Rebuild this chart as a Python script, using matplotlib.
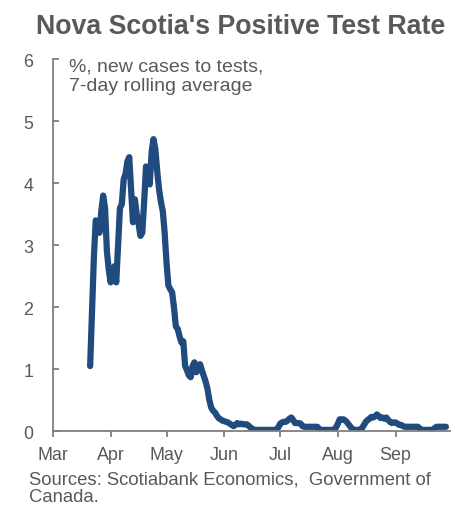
import numpy as np
import pandas as pd
import matplotlib
matplotlib.use("Agg")
import matplotlib.pyplot as plt
import matplotlib.dates as mdates

# 7-day rolling positive test rate (%), daily from 21 March
start_date = "2020-03-21"
positive_rate = [
    1.05, 1.90, 2.80, 3.40, 3.35, 3.20, 3.55, 3.80, 3.60, 2.90,   # Mar 21-30
    2.60, 2.40, 2.55, 2.66, 2.40, 3.00, 3.60, 3.66, 4.06, 4.15,   # Mar 31-Apr 9
    4.35, 4.42, 3.90, 3.37, 3.74, 3.50, 3.35, 3.15, 3.20, 3.70,   # Apr 10-19
    4.27, 4.15, 3.98, 4.50, 4.71, 4.55, 4.20, 3.90, 3.70, 3.55,   # Apr 20-29
    3.20, 2.72, 2.35, 2.29, 2.24, 2.00, 1.69, 1.65, 1.53, 1.43,   # Apr 30-May 9
    1.45, 1.05, 0.98, 0.90, 0.87, 1.05, 1.11, 0.95, 1.00, 1.08,   # May 10-19
    0.98, 0.89, 0.80, 0.68, 0.50, 0.38, 0.33, 0.30, 0.25, 0.21,   # May 20-29
    0.19, 0.17, 0.16, 0.15, 0.14, 0.12, 0.10, 0.08, 0.10, 0.13,   # May 30-Jun 8
    0.11, 0.12, 0.11, 0.11, 0.11, 0.09, 0.06, 0.04, 0.02, 0.02,   # Jun 9-18
    0.02, 0.02, 0.02, 0.02, 0.02, 0.02, 0.02, 0.02, 0.02, 0.02,   # Jun 19-28
    0.02, 0.06, 0.12, 0.14, 0.15, 0.15, 0.17, 0.20, 0.22, 0.18,   # Jun 29-Jul 8
    0.13, 0.13, 0.13, 0.12, 0.08, 0.07, 0.07, 0.07, 0.07, 0.07,   # Jul 9-18
    0.07, 0.07, 0.07, 0.03, 0.02, 0.02, 0.02, 0.02, 0.02, 0.02,   # Jul 19-28
    0.02, 0.02, 0.06, 0.12, 0.19, 0.19, 0.19, 0.17, 0.14, 0.10,   # Jul 29-Aug 7
    0.06, 0.03, 0.02, 0.02, 0.02, 0.02, 0.05, 0.10, 0.15, 0.18,   # Aug 8-17
    0.20, 0.23, 0.22, 0.24, 0.27, 0.24, 0.21, 0.22, 0.20, 0.22,   # Aug 18-27
    0.18, 0.15, 0.13, 0.14, 0.14, 0.12, 0.10, 0.10, 0.08, 0.07,   # Aug 28-Sep 6
    0.07, 0.07, 0.07, 0.07, 0.07, 0.07, 0.07, 0.04, 0.02, 0.02,   # Sep 7-16
    0.02, 0.02, 0.02, 0.02, 0.02, 0.05, 0.07, 0.07, 0.07, 0.07,   # Sep 17-26
    0.07, 0.07,                                                   # Sep 27-28
]
dates = pd.date_range(start_date, periods=len(positive_rate), freq="D")

month_ticks = pd.date_range("2020-03-01", "2020-09-01", freq="MS")
month_labels = ["Mar", "Apr", "May", "Jun", "Jul", "Aug", "Sep"]
y_ticks = [0, 1, 2, 3, 4, 5, 6]

title = "Nova Scotia's Positive Test Rate"
units_note = "%, new cases to tests,\n7-day rolling average"
source_note = "Sources: Scotiabank Economics,  Government of\nCanada."

line_color = "#1F4B7E"
text_color = "#595959"
axis_color = "#7F7F7F"

plt.rcParams["font.family"] = ["Liberation Sans", "DejaVu Sans"]

fig = plt.figure(figsize=(4.56, 5.06), dpi=100)
ax = fig.add_axes([0.116, 0.146, 0.870, 0.735])

ax.plot(dates, positive_rate, color=line_color, lw=4.5,
        solid_joinstyle="round", solid_capstyle="round")

ax.set_xlim(pd.Timestamp("2020-03-01"), pd.Timestamp("2020-09-30"))
ax.set_ylim(0, 6)
ax.set_yticks(y_ticks)
ax.set_xticks(month_ticks)
ax.set_xticklabels(month_labels)

for side in ("top", "right"):
    ax.spines[side].set_visible(False)
for side in ("left", "bottom"):
    ax.spines[side].set_color(axis_color)
    ax.spines[side].set_linewidth(1.3)

ax.tick_params(axis="x", direction="out", length=4, width=1.3, color=axis_color,
               labelsize=12.9, labelcolor=text_color, pad=7)
ax.tick_params(axis="y", direction="in", length=4, width=1.3, color=axis_color,
               labelsize=12.9, labelcolor=text_color, pad=14)

ax.text(0.04, 1.005, units_note, transform=ax.transAxes, ha="left", va="top",
        fontsize=14, color=text_color, linespacing=1.2)

fig.text(0.527, 0.947, title, ha="center", va="center", fontsize=19.3,
         fontweight="bold", color=text_color)
fig.text(0.064, 0.034, source_note, ha="left", va="center", fontsize=13.3,
         color=text_color, linespacing=1.1)

fig.savefig("out.png", dpi=100)
